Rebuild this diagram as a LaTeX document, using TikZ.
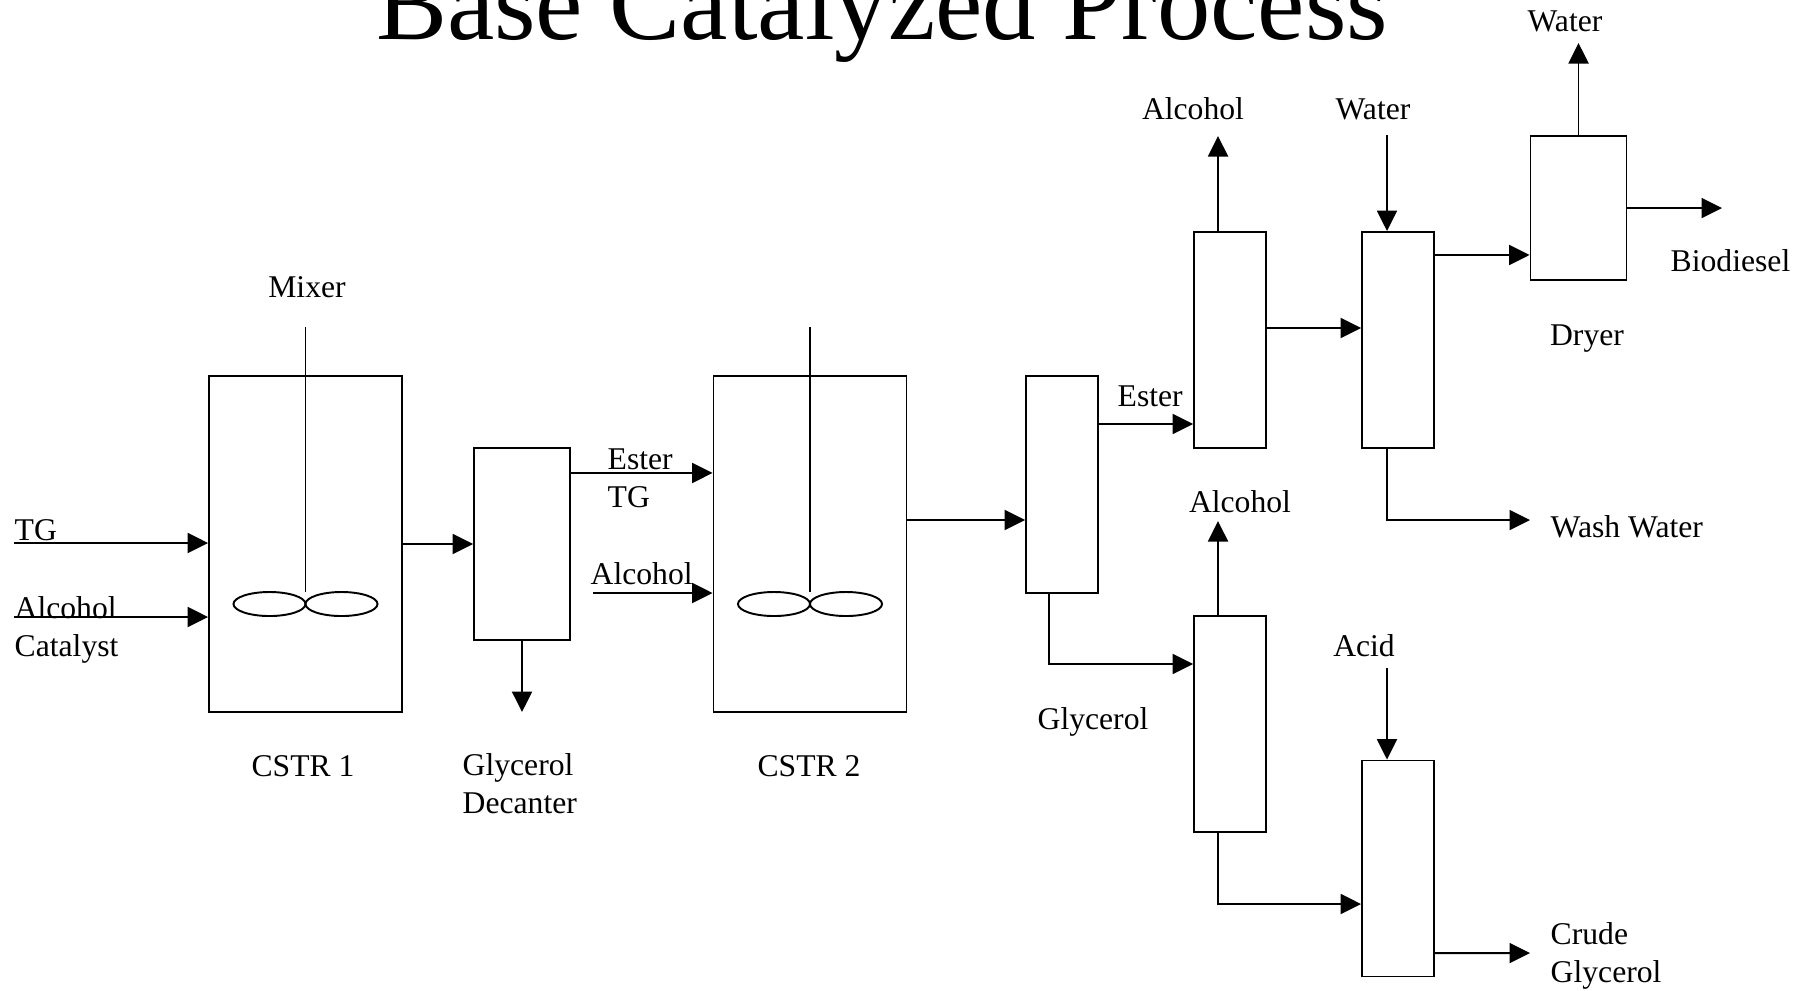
\documentclass[tikz,border=0pt]{standalone}
\usepackage{fontspec}
\setmainfont{Liberation Serif}
\usetikzlibrary{arrows.meta,positioning,calc}

\tikzset{
  unit/.style={draw, line width=0.5pt, inner sep=0pt, minimum width=0.72cm, minimum height=2.16cm},
  tank/.style={unit, minimum width=1.93cm, minimum height=3.36cm},
  pipe/.style={line width=0.55pt},
  flow/.style={pipe, -{Triangle[length=0.205cm,width=0.2cm]}},
  lbl/.style={font=\fontsize{9}{10.8}\selectfont, inner sep=0pt, align=left},
}

\begin{document}
\begin{tikzpicture}[x=0.01cm, y=-0.01cm]
  \useasboundingbox (0,0) rectangle (1812,990);

  % --- Title ---
  \node[font=\fontsize{30.3}{36}\selectfont, anchor=base, inner sep=0pt] (title) at (882,39) {Base Catalyzed Process};

  % --- Reactors with mixers ---
  \node[tank] (cstr1) at (305.5,544) {};
  \node[tank] (cstr2) at (810,544) {};
  \foreach \r in {cstr1, cstr2} {
    \draw[pipe] ($(\r.north)+(0,-48)$) -- ($(\r.center)+(0,48)$);
    \draw[pipe] ($(\r.center)+(-36,60)$) ellipse [x radius=0.36cm, y radius=0.12cm];
    \draw[pipe] ($(\r.center)+(36,60)$) ellipse [x radius=0.36cm, y radius=0.12cm];
  }

  % --- Separation units ---
  \node[unit, minimum width=0.96cm, minimum height=1.92cm] (decanter) at (522,544) {};
  \node[unit, minimum height=2.17cm] (sep) at (1062,484.5) {};
  \node[unit] (evap1) at (1230,340) {};
  \node[unit] (wash) at (1398,340) {};
  \node[unit, minimum width=0.96cm, minimum height=1.44cm] (dryer) at (1578.5,208) {};
  \node[unit] (evap2) at (1230,724) {};
  \node[unit] (neut) at (1398,868.5) {};

  % --- Free ends of streams ---
  \coordinate (tgin) at (14,543);
  \coordinate (alcin1) at (14,617);
  \coordinate (glyout) at (522,712);
  \coordinate (alcin2) at (593,593);
  \coordinate (alcout1) at (1218,136);
  \coordinate (waterin) at (1387,135);
  \coordinate (waterout) at (1579,43);
  \coordinate (biodiesel) at (1722,208);
  \coordinate (washout) at (1530,520);
  \coordinate (alcout2) at (1218,521);
  \coordinate (acidin) at (1387,668);
  \coordinate (crudeout) at (1530,953);

  % --- Streams ---
  \draw[flow] (tgin) -- (tgin -| cstr1.west);
  \draw[flow] (alcin1) -- (alcin1 -| cstr1.west);
  \draw[flow] (cstr1.east) -- (decanter.west);
  \draw[flow] (decanter.south) -- (glyout);
  \draw[flow] ([yshift=0.71cm]decanter.east) -- ([yshift=0.71cm]decanter.east -| cstr2.west);
  \draw[flow] (alcin2) -- (alcin2 -| cstr2.west);
  \draw[flow] ([yshift=0.24cm]cstr2.east) -- ([yshift=0.24cm]cstr2.east -| sep.west);
  \draw[flow] ([yshift=0.605cm]sep.east) -- ([yshift=0.605cm]sep.east -| evap1.west);
  \draw[flow] ([xshift=-0.13cm]sep.south) |- ([yshift=0.6cm]evap2.west);
  \draw[flow] ([xshift=-0.12cm]evap1.north) -- (alcout1);
  \draw[flow] ([yshift=0.12cm]evap1.east) -- ([yshift=0.12cm]evap1.east -| wash.west);
  \draw[flow] (waterin) -- (waterin |- wash.north);
  \draw[flow] ([yshift=0.85cm]wash.east) -- ([yshift=0.85cm]wash.east -| dryer.west);
  \draw[flow] ([xshift=-0.11cm]wash.south) |- (washout);
  \draw[flow] (dryer.north) -- (dryer.north |- waterout);
  \draw[flow] (dryer.east) -- (biodiesel);
  \draw[flow] ([xshift=-0.12cm]evap2.north) -- (alcout2);
  \draw[flow] ([xshift=-0.12cm]evap2.south) |- ([yshift=-0.355cm]neut.west);
  \draw[flow] (acidin) -- (acidin |- neut.north);
  \draw[flow] ([yshift=-0.845cm]neut.east) -- (crudeout);

  % --- Labels ---
  \node[lbl] (l-mixer) at (307,287) {Mixer};
  \node[lbl, anchor=west] (l-tg) at (14,530) {TG};
  \node[lbl, anchor=west] (l-feed) at (14,629.5) {Alcohol\\Catalyst};
  \node[lbl] (l-cstr1) at (303,766) {CSTR 1};
  \node[lbl, anchor=west] (l-decanter) at (462,784) {Glycerol\\Decanter};
  \node[lbl, anchor=west] (l-estertg) at (607,478) {Ester\\TG};
  \node[lbl, anchor=west] (l-alc2) at (590,574) {Alcohol};
  \node[lbl] (l-cstr2) at (809,766) {CSTR 2};
  \node[lbl, anchor=west] (l-ester) at (1117,396) {Ester};
  \node[lbl] (l-gly) at (1093,721.5) {Glycerol};
  \node[lbl] (l-alc3) at (1193,109) {Alcohol};
  \node[lbl] (l-water1) at (1373,109) {Water};
  \node[lbl] (l-water2) at (1565,21) {Water};
  \node[lbl, anchor=west] (l-bio) at (1670,261) {Biodiesel};
  \node[lbl] (l-dryer) at (1587,338.5) {Dryer};
  \node[lbl, anchor=west] (l-wash) at (1550,527) {Wash Water};
  \node[lbl] (l-alc4) at (1240,502) {Alcohol};
  \node[lbl] (l-acid) at (1364,646) {Acid};
  \node[lbl, anchor=west] (l-crude) at (1550,956) {Crude\\Glycerol};
\end{tikzpicture}
\end{document}
